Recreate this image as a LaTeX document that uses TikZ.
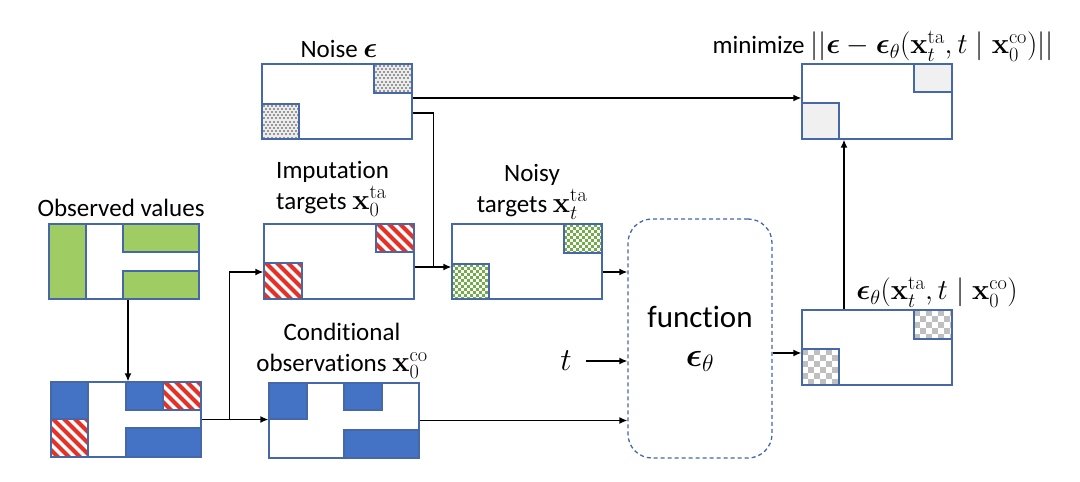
\RequirePackage{fix-cm}
\documentclass[tikz,border=0pt]{standalone}
\usepackage{amsmath}
\usepackage[no-math]{fontspec}
\setmainfont{Carlito}[Ligatures=NoCommon]
\usetikzlibrary{arrows.meta,calc}
\definecolor{bordercol}{RGB}{70,104,168}
\definecolor{fillblue}{RGB}{68,114,196}
\definecolor{obsgreen}{RGB}{160,204,100}
\definecolor{chkgreen}{RGB}{112,173,71}
\definecolor{stripered}{RGB}{229,50,40}
\definecolor{lightcell}{RGB}{240,240,240}
\definecolor{chkgray}{RGB}{191,191,191}
\definecolor{noisebg}{RGB}{236,236,236}
\definecolor{noisedot}{RGB}{150,150,150}
\newcommand\mth[1]{{\fontsize{29}{31}\selectfont$#1$}}
\tikzset{
  cellborder/.style={draw=bordercol,line width=1.1pt},
  databox/.style={draw=bordercol,line width=1.3pt,minimum width=150pt,minimum height=75pt,inner sep=0pt},
  funcbox/.style={draw=bordercol,line width=1.3pt,dash pattern=on 4pt off 3pt,rounded corners=24pt,minimum width=144pt,minimum height=239pt,inner sep=0pt,align=center,font=\fontsize{31}{37}\selectfont},
  lbl/.style={inner sep=0pt,font=\fontsize{25}{31}\selectfont,align=center},
  stripe/.style={draw=stripered,line width=4pt},
  arr/.style={line width=1.4pt,-{Latex[length=8pt,width=7pt]}},
  conn/.style={line width=1.4pt}
}
\newcommand\solidcell[5]{\draw[cellborder,fill=#5] (#1,#2) rectangle (#3,#4);}
\newcommand\stripecell[4]{%
\begin{scope}
\clip (#1,#2) rectangle (#3,#4);
\fill[white] (#1,#2) rectangle (#3,#4);
\foreach \s in {-44,-33,...,44} \draw[stripe] ({#1+\s},{#2-2}) -- ++(45,45);
\end{scope}
\draw[cellborder] (#1,#2) rectangle (#3,#4);}
\newcommand\checkcell[6]{%
\begin{scope}
\clip (#1,#2) rectangle (#3,#4);
\fill[white] (#1,#2) rectangle (#3,#4);
\pgfmathtruncatemacro\cknx{ceil((#3-#1)/#5)}
\pgfmathtruncatemacro\ckny{ceil((#4-#2)/#5)}
\foreach \ci in {0,...,\cknx}{\foreach \cj in {0,...,\ckny}{%
 \pgfmathtruncatemacro\ckpar{mod(\ci+\cj,2)}%
 \ifnum\ckpar=0 \fill[#6] ({#1+\ci*#5},{#2+\cj*#5}) rectangle ++(#5,#5);\fi}}
\end{scope}
\draw[cellborder] (#1,#2) rectangle (#3,#4);}
\newcommand\noisecell[4]{%
\begin{scope}
\clip (#1,#2) rectangle (#3,#4);
\fill[noisebg] (#1,#2) rectangle (#3,#4);
\foreach \ci in {0,...,10}{\foreach \cj in {0,...,11}{%
 \fill[noisedot] ({#1+0.5+\ci*4+mod(\cj,2)*2},{#2+0.5+\cj*3.2}) rectangle ++(2.1,2.1);}}
\end{scope}
\draw[cellborder] (#1,#2) rectangle (#3,#4);}
\begin{document}
\begin{tikzpicture}[x=1pt,y=-1pt]
\useasboundingbox[fill=white] (0,0) rectangle (1080,482);
% ---- inner cells ----
% observed values
\solidcell{49}{224}{86}{299}{obsgreen}
\solidcell{123}{224}{199}{252}{obsgreen}
\solidcell{123}{271}{199}{299}{obsgreen}
% mask
\solidcell{51}{382}{88}{419}{fillblue}
\stripecell{51}{419}{88}{457}
\solidcell{126}{382}{163}{410}{fillblue}
\stripecell{163}{382}{201}{410}
\solidcell{126}{428}{201}{457}{fillblue}
% conditional
\solidcell{269}{383}{307}{419}{fillblue}
\solidcell{344}{383}{382}{410}{fillblue}
\solidcell{344}{430}{419}{458}{fillblue}
% noise
\noisecell{374}{64}{412}{93}
\noisecell{262}{104}{299}{139}
% imputation targets
\stripecell{376}{224}{414}{252}
\stripecell{264}{263}{302}{299}
% noisy targets
\checkcell{564}{224}{602}{253}{3}{chkgreen}
\checkcell{452}{264}{489}{299}{3}{chkgreen}
% minimize
\solidcell{914}{64}{952}{92}{lightcell}
\solidcell{802}{103}{839}{139}{lightcell}
% eps output
\checkcell{914}{310}{952}{339}{6}{chkgray}
\checkcell{802}{349}{839}{385}{6}{chkgray}
% ---- boxes ----
\node[databox] (obs) at (124,261.5) {};
\node[databox] (mask) at (126,419.5) {};
\node[databox] (cond) at (344,420.5) {};
\node[databox] (noise) at (337,101.5) {};
\node[databox] (imp) at (339,261.5) {};
\node[databox] (noisy) at (527,261.5) {};
\node[databox] (mini) at (877,101.5) {};
\node[databox] (eps) at (877,347.5) {};
\node[funcbox] (func) at (700,338.5) {function\\[2pt]{\fontsize{34}{36}\selectfont$\boldsymbol{\epsilon}_\theta$}};
% ---- labels ----
\node[lbl] (lobs) at (121,208) {Observed values};
\node[lbl] (lnoise) at (339,49) {Noise \mth{\boldsymbol{\epsilon}}};
\node[lbl,align=left,anchor=west] (limp) at (276,189) {Imputation\\targets \mth{\mathbf{x}_0^{\mathrm{ta}}}};
\node[lbl] (lnoisy) at (532,192) {Noisy\\targets \mth{\mathbf{x}_t^{\mathrm{ta}}}};
\node[lbl] (lcond) at (342,351) {Conditional\\observations \mth{\mathbf{x}_0^{\mathrm{co}}}};
\node[lbl] (lmini) at (883,46) {minimize \mth{||\boldsymbol{\epsilon}-\boldsymbol{\epsilon}_\theta(\mathbf{x}_t^{\mathrm{ta}},t\mid\mathbf{x}_0^{\mathrm{co}})||}};
\node[lbl] (leps) at (937,292) {\mth{\boldsymbol{\epsilon}_\theta(\mathbf{x}_t^{\mathrm{ta}},t\mid\mathbf{x}_0^{\mathrm{co}})}};
\node[inner sep=0pt,font=\fontsize{32}{36}\selectfont] (t) at (566,361) {$t$};
% ---- connectors ----
\draw[arr] ([xshift=4pt]obs.south) -- ([xshift=4pt]obs.south |- mask.north);
\draw[arr] (mask.east) -- (mask.east -| cond.west);
\coordinate (br) at ($(mask.east)+(28,0)$);
\draw[arr] (br) |- ([yshift=-10.5pt]imp.west);
\coordinate (jn) at ([yshift=-5.5pt,xshift=19pt]imp.east);
\draw[arr] ([yshift=-5.5pt]imp.east) -- ([yshift=-5.5pt]imp.east -| noisy.west);
\draw[conn] ([yshift=-11.5pt]noise.east) -| (jn);
\draw[arr] ([yshift=3.5pt]noise.east) -- ([yshift=3.5pt]noise.east -| mini.west);
\draw[arr] ([yshift=-10.5pt]noisy.east) -- ([yshift=-10.5pt]noisy.east -| func.west);
\draw[arr] ([xshift=14pt]t.east) -- (t.east -| func.west);
\draw[arr] (cond.east) -- (cond.east -| func.west);
\draw[arr] ([yshift=-5.5pt]eps.west -| func.east) -- ([yshift=-5.5pt]eps.west);
\draw[arr] ([xshift=-33pt]eps.north) -- ([xshift=-33pt]eps.north |- mini.south);
\end{tikzpicture}
\end{document}
